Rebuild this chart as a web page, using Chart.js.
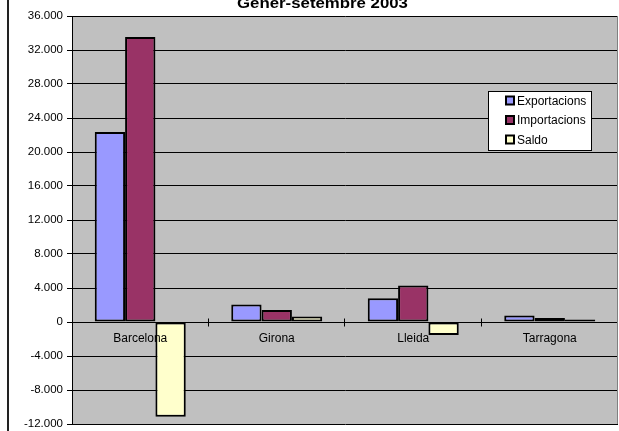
<!DOCTYPE html>
<html>
<head>
<meta charset="utf-8">
<script src="https://cdn.jsdelivr.net/npm/chart.js@4.4.0/dist/chart.umd.min.js"></script>
<style>
  html, body { margin: 0; padding: 0; background: #fff; }
  #wrap { width: 619px; height: 431px; }
</style>
</head>
<body>
<div id="wrap"><canvas id="myChart" width="619" height="431"></canvas></div>
<script>
const categories = ['Barcelona', 'Girona', 'Lleida', 'Tarragona'];
const seriesNames = ['Exportacions', 'Importacions', 'Saldo'];
const exportacions = [22350, 2060, 2780, 770];
const importacions = [33530, 1420, 4300, 470];
const saldo = [-11150, 640, -1520, 280];
const yTicks = [-12000, -8000, -4000, 0, 4000, 8000, 12000, 16000, 20000, 24000, 28000, 32000, 36000];
const titleText = 'Gener-setembre 2003';

const seriesColors = ['#9999FF', '#993366', '#FFFFCC'];
const FONT = '"Liberation Sans", Arial, sans-serif';

function fmt(v) {
  const s = Math.abs(v).toString().replace(/\B(?=(\d{3})+(?!\d))/g, '.');
  return (v < 0 ? '-' : '') + s;
}

// grey plot area, white page, left frame line, title
const backgroundPlugin = {
  id: 'background',
  beforeDraw: (chart) => {
    const { ctx, chartArea } = chart;
    ctx.save();
    ctx.fillStyle = '#ffffff';
    ctx.fillRect(0, 0, chart.width, chart.height);
    ctx.fillStyle = '#C0C0C0';
    ctx.fillRect(chartArea.left, chartArea.top, chartArea.right - chartArea.left, chartArea.bottom - chartArea.top);
    ctx.fillStyle = '#222';
    ctx.fillRect(7, 0, 2, chart.height);

    ctx.translate(322.5, 8);
    ctx.scale(1.2, 1);
    ctx.fillStyle = '#000';
    ctx.font = 'bold 14px ' + FONT;
    ctx.textAlign = 'center';
    ctx.textBaseline = 'alphabetic';
    ctx.fillText(titleText, 0, 0);
    ctx.restore();
  }
};

// category axis at zero with crossing tick marks, right border, legend
const overlayPlugin = {
  id: 'overlay',
  afterDatasetsDraw: (chart) => {
    const { ctx, chartArea, scales } = chart;
    const y0 = Math.round(scales.y.getPixelForValue(0)) + 0.5;
    ctx.save();
    ctx.strokeStyle = '#000';
    ctx.lineWidth = 1;
    ctx.beginPath();
    ctx.moveTo(chartArea.left, y0);
    ctx.lineTo(chartArea.right, y0);
    const w = (chartArea.right - chartArea.left) / categories.length;
    for (let i = 1; i <= categories.length; i++) {
      const x = Math.round(chartArea.left + w * i) - 0.5;
      ctx.moveTo(x, y0 - 4);
      ctx.lineTo(x, y0 + 4);
    }
    ctx.stroke();

    ctx.strokeStyle = '#808080';
    ctx.beginPath();
    ctx.moveTo(Math.round(chartArea.right) - 0.5, chartArea.top);
    ctx.lineTo(Math.round(chartArea.right) - 0.5, chartArea.bottom);
    ctx.stroke();
    ctx.restore();
  },
  afterDraw: (chart) => {
    const { ctx } = chart;
    const bx = 488.5, by = 91.5, bw = 103, bh = 59;
    ctx.save();
    ctx.fillStyle = '#fff';
    ctx.fillRect(bx, by, bw, bh);
    ctx.strokeStyle = '#000';
    ctx.lineWidth = 1;
    ctx.strokeRect(bx, by, bw, bh);
    ctx.font = '12px ' + FONT;
    ctx.textBaseline = 'middle';
    ctx.textAlign = 'left';
    chart.data.datasets.forEach((ds, i) => {
      const cy = 101 + i * 19.5;
      ctx.fillStyle = ds.backgroundColor;
      ctx.fillRect(506, cy - 4.5, 8, 8);
      ctx.lineWidth = 2;
      ctx.strokeRect(506, cy - 4.5, 8, 8);
      ctx.fillStyle = '#000';
      ctx.fillText(ds.label, 517, cy + 0.5);
    });
    ctx.restore();
  }
};

const ctx = document.getElementById('myChart').getContext('2d');
const seriesData = [exportacions, importacions, saldo];

new Chart(ctx, {
  type: 'bar',
  data: {
    labels: categories,
    datasets: seriesNames.map((name, i) => ({
      label: name,
      data: seriesData[i],
      backgroundColor: seriesColors[i],
      borderColor: '#000',
      borderWidth: 2,
      borderSkipped: false,
      categoryPercentage: 2 / 3,
      barPercentage: 1
    }))
  },
  options: {
    responsive: false,
    devicePixelRatio: 1,
    animation: false,
    layout: {
      padding: { left: 0, right: 1, top: 16, bottom: 7 }
    },
    plugins: {
      legend: { display: false },
      title: { display: false },
      tooltip: { enabled: false }
    },
    scales: {
      x: {
        position: { y: 0 },
        offset: true,
        grid: { display: false, drawTicks: false },
        border: { display: false },
        ticks: {
          z: 1,
          color: '#000',
          padding: 9,
          maxRotation: 0,
          font: { family: FONT, size: 12 }
        }
      },
      y: {
        min: -12000,
        max: 36000,
        afterBuildTicks: (scale) => {
          scale.ticks = yTicks.map((v) => ({ value: v }));
        },
        afterFit: (scale) => {
          scale.width = 72;
          scale.paddingTop = 0;
          scale.paddingBottom = 0;
        },
        grid: {
          color: '#000',
          lineWidth: 1,
          tickColor: '#000',
          tickLength: 5
        },
        border: { color: '#000', width: 1 },
        ticks: {
          color: '#000',
          padding: 4,
          font: { family: FONT, size: 11.5 },
          callback: (v) => fmt(v)
        }
      }
    }
  },
  plugins: [backgroundPlugin, overlayPlugin]
});
</script>
</body>
</html>
